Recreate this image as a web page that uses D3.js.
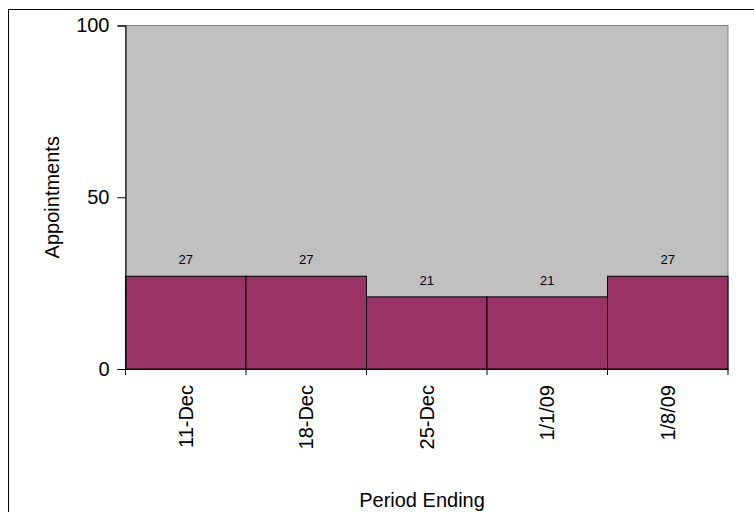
<!DOCTYPE html>
<html>
<head>
<meta charset="utf-8">
<script src="https://cdn.jsdelivr.net/npm/d3@7"></script>
<style>
  body { margin: 0; background: #fff; }
  svg { display: block; font-family: "Liberation Sans", Arial, sans-serif; }
</style>
</head>
<body>
<svg id="chart" width="754" height="512"></svg>
<script>
// data
const periods = ['11-Dec', '18-Dec', '25-Dec', '1/1/09', '1/8/09'];
const appointments = [27, 27, 21, 21, 27];
const yTicks = [0, 50, 100];

const svg = d3.select('#chart');
const margin = { top: 25.5, left: 125.5, right: 26, bottom: 143 };
const width = 754 - margin.left - margin.right;
const height = 512 - margin.top - margin.bottom;
const font = '"Liberation Sans", Arial, sans-serif';

// outer frame (runs off the right/bottom edge like the original)
svg.append('rect')
  .attr('x', 8.5).attr('y', 9.5)
  .attr('width', 800).attr('height', 600)
  .attr('fill', 'none').attr('stroke', '#000').attr('stroke-width', 1);

const g = svg.append('g')
  .attr('transform', 'translate(' + margin.left + ',' + margin.top + ')');

const x = d3.scaleBand().domain(periods).range([0, width]).padding(0);
const y = d3.scaleLinear().domain([0, 100]).range([height, 0]);

// plot area
g.append('rect')
  .attr('width', width).attr('height', height)
  .attr('fill', '#c0c0c0').attr('stroke', '#808080').attr('stroke-width', 1);

// bars
const data = periods.map((p, i) => ({ p: p, v: appointments[i] }));
g.selectAll('rect.bar')
  .data(data)
  .enter().append('rect')
  .attr('class', 'bar')
  .attr('x', d => x(d.p))
  .attr('y', d => y(d.v))
  .attr('width', x.bandwidth())
  .attr('height', d => height - y(d.v))
  .attr('fill', '#993366')
  .attr('stroke', '#000').attr('stroke-width', 1);

// value labels
g.selectAll('text.val')
  .data(data)
  .enter().append('text')
  .attr('class', 'val')
  .attr('x', d => x(d.p) + x.bandwidth() / 2)
  .attr('y', d => y(d.v) - 12)
  .attr('text-anchor', 'middle')
  .attr('font-size', 13)
  .attr('fill', '#000')
  .text(d => d.v);

// y axis
const yAxis = g.append('g')
  .call(d3.axisLeft(y).tickValues(yTicks).tickSize(8).tickPadding(8));
yAxis.select('.domain').attr('stroke', '#000');
yAxis.selectAll('.tick line').attr('stroke', '#000');
yAxis.selectAll('.tick text')
  .attr('font-size', 20).attr('font-family', font)
  .attr('fill', '#000');

// x axis with boundary ticks
const xAxis = g.append('g')
  .attr('transform', 'translate(0,' + height + ')')
  .call(d3.axisBottom(x).tickSize(0).tickPadding(10));
xAxis.select('.domain').attr('stroke', '#000');
xAxis.selectAll('.tick text')
  .attr('font-size', 20).attr('font-family', font)
  .attr('fill', '#000')
  .attr('transform', 'rotate(-90)')
  .attr('text-anchor', 'end')
  .attr('x', -16).attr('y', 0).attr('dy', '0.35em');

const bounds = periods.map(p => x(p)).concat([width]);
xAxis.selectAll('line.bound')
  .data(bounds)
  .enter().append('line')
  .attr('class', 'bound')
  .attr('x1', d => d).attr('x2', d => d)
  .attr('y1', 0).attr('y2', 6)
  .attr('stroke', '#000');

// axis titles
svg.append('text')
  .attr('transform', 'translate(59,' + (margin.top + height / 2) + ') rotate(-90)')
  .attr('text-anchor', 'middle')
  .attr('font-size', 20)
  .text('Appointments');

svg.append('text')
  .attr('x', 422)
  .attr('y', 507)
  .attr('text-anchor', 'middle')
  .attr('font-size', 20)
  .text('Period Ending');
</script>
</body>
</html>
